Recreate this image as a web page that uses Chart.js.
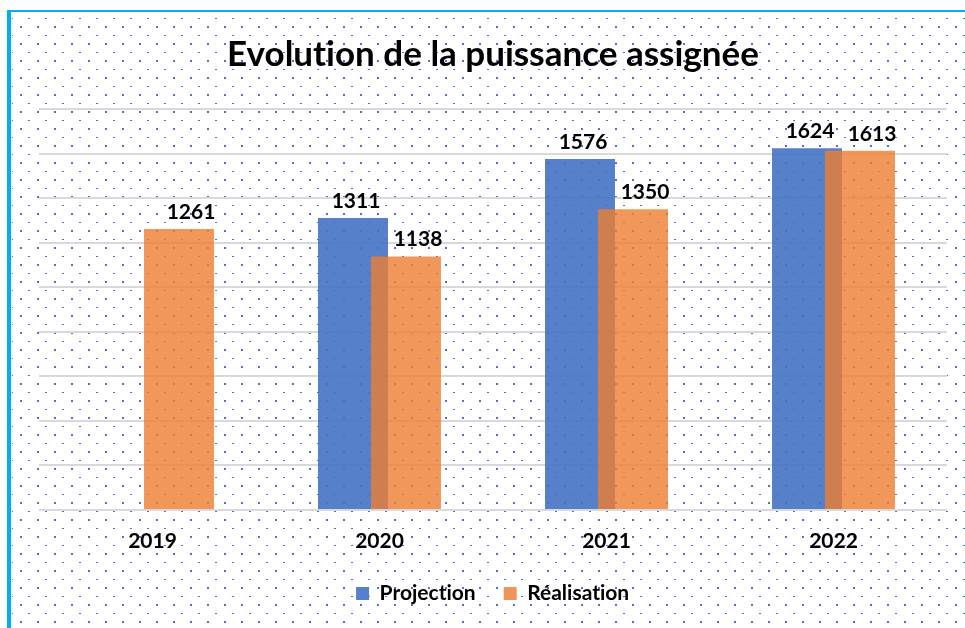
<!DOCTYPE html>
<html>
<head>
<meta charset="utf-8">
<script src="https://cdn.jsdelivr.net/npm/chart.js@4.4.1/dist/chart.umd.min.js"></script>
<style>
 html, body { margin: 0; padding: 0; background: #fff; }
 #wrap { width: 965px; height: 628px; }
</style>
</head>
<body>
<div id="wrap"><canvas id="chart" width="965" height="628"></canvas></div>
<script>
const years = ['2019', '2020', '2021', '2022'];
const projection = [null, 1311, 1576, 1624];
const realisation = [1261, 1138, 1350, 1613];
const yTicks = [0, 200, 400, 600, 800, 1000, 1200, 1400, 1600, 1800];

const FONT = 'Lato, "Open Sans", sans-serif';

// dotted background pattern (dash + dot on a 17px cell)
const tile = document.createElement('canvas');
tile.width = 17; tile.height = 17;
const tctx = tile.getContext('2d');
tctx.fillStyle = '#4a74c8';
tctx.fillRect(11, 1, 2, 1);
tctx.fillRect(3, 9, 2, 2);

const backdrop = {
 id: 'backdrop',
 beforeDraw(chart) {
  const ctx = chart.ctx;
  ctx.textRendering = 'optimizeSpeed'; // no "ti" ligature
  ctx.save();
  ctx.fillStyle = '#ffffff';
  ctx.fillRect(0, 0, chart.width, chart.height);
  ctx.fillStyle = ctx.createPattern(tile, 'repeat');
  ctx.fillRect(12, 12, chart.width - 12, chart.height - 12);
  ctx.fillStyle = '#00b0f0';
  ctx.fillRect(7, 10, 4, chart.height - 10);
  ctx.fillRect(7, 10, chart.width - 7, 2);
  ctx.restore();
 }
};

// draw Réalisation after Projection so the orange bar sits on top
const orangeOnTop = {
 id: 'orangeOnTop',
 beforeDatasetDraw(chart, args) {
  if (args.index === 1 && !chart.$lateDraw) return false;
 },
 afterDatasetsDraw(chart) {
  chart.$lateDraw = true;
  const meta = chart.getDatasetMeta(1);
  const ctx = chart.ctx;
  const area = chart.chartArea;
  ctx.save();
  ctx.beginPath();
  ctx.rect(area.left, area.top - 2, area.right - area.left, area.bottom - area.top + 2);
  ctx.clip();
  meta.controller.draw();
  ctx.restore();
  chart.$lateDraw = false;
 }
};

const valueLabels = {
 id: 'valueLabels',
 afterDatasetsDraw(chart) {
  const ctx = chart.ctx;
  ctx.save();
  ctx.font = 'bold 21px ' + FONT;
  ctx.fillStyle = '#000';
  ctx.textAlign = 'center';
  ctx.textBaseline = 'alphabetic';
  chart.data.datasets.forEach((ds, i) => {
   const meta = chart.getDatasetMeta(i);
   const dx = i === 0 ? 3 : 12;
   meta.data.forEach((bar, j) => {
    const v = ds.data[j];
    if (v === null) return;
    ctx.fillText(String(v), bar.x + dx, bar.y - 10);
   });
  });
  ctx.restore();
 }
};

new Chart(document.getElementById('chart').getContext('2d'), {
 type: 'bar',
 data: {
  labels: years,
  datasets: [
   {
    label: 'Projection',
    data: projection,
    backgroundColor: 'rgba(68,114,196,0.9)',
    borderWidth: 0,
    categoryPercentage: 0.467,
    barPercentage: 1.32
   },
   {
    label: 'Réalisation',
    data: realisation,
    backgroundColor: 'rgba(237,125,49,0.8)',
    borderWidth: 0,
    categoryPercentage: 0.467,
    barPercentage: 1.32
   }
  ]
 },
 options: {
  responsive: false,
  animation: false,
  layout: { padding: { left: 39, right: 18, top: 0, bottom: 14 } },
  plugins: {
   title: {
    display: true,
    text: 'Evolution de la puissance assignée',
    color: '#000',
    font: { family: FONT, size: 35, weight: 'bold', lineHeight: 1.2 },
    padding: { top: 34, bottom: 33 }
   },
   legend: {
    position: 'bottom',
    labels: {
     color: '#000',
     font: { family: FONT, size: 21, weight: 'bold' },
     boxWidth: 13,
     boxHeight: 13,
     padding: 28,
     generateLabels(chart) {
      const solid = ['#5580cb', '#f0955a'];
      return chart.data.datasets.map((ds, i) => ({
       text: ds.label,
       fillStyle: solid[i],
       strokeStyle: solid[i],
       lineWidth: 0,
       datasetIndex: i,
       fontColor: '#000'
      }));
     }
    }
   },
   tooltip: { enabled: false }
  },
  scales: {
   x: {
    grid: { display: false, drawTicks: false },
    border: { display: false },
    ticks: {
     color: '#000',
     font: { family: FONT, size: 21, weight: 'bold' },
     padding: 19
    },
    afterFit(scale) { scale.height = 45; }
   },
   y: {
    min: 0,
    max: 1800,
    afterBuildTicks(scale) { scale.ticks = yTicks.map(v => ({ value: v })); },
    grid: { color: '#d9d9d9', lineWidth: 2, drawTicks: false },
    border: { display: false },
    ticks: { display: false }
   }
  }
 },
 plugins: [backdrop, orangeOnTop, valueLabels]
});
</script>
</body>
</html>
